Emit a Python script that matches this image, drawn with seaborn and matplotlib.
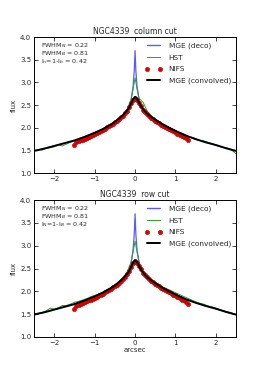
import matplotlib
matplotlib.use("Agg")
import matplotlib.pyplot as plt
import seaborn as sns
from matplotlib.lines import Line2D

sns.set_style("ticks")
plt.rcParams['font.family'] = ['DejaVu Sans']
plt.rcParams['mathtext.fontset'] = 'dejavusans'

# ---------------- data ----------------
x_conv = [-2.5, -2.25, -2.0, -1.75, -1.5, -1.25, -1.0, -0.8, -0.6, -0.5, -0.4, -0.3, -0.2,
          -0.15, -0.1, -0.05, 0.0, 0.05, 0.1, 0.15, 0.2, 0.3, 0.4, 0.5, 0.6, 0.8, 1.0,
          1.25, 1.5, 1.75, 2.0, 2.25, 2.5]
y_conv = [1.49, 1.54, 1.60, 1.66, 1.72, 1.80, 1.89, 1.97, 2.07, 2.13, 2.20, 2.28, 2.38,
          2.44, 2.53, 2.63, 2.68, 2.64, 2.55, 2.47, 2.41, 2.31, 2.24, 2.18, 2.12, 2.02, 1.93,
          1.83, 1.75, 1.68, 1.62, 1.55, 1.49]

x_deco = [-2.5, -2.25, -2.0, -1.75, -1.5, -1.25, -1.0, -0.8, -0.6, -0.5, -0.4, -0.3, -0.2,
          -0.15, -0.1, -0.05, -0.02, 0.0, 0.02, 0.05, 0.1, 0.15, 0.2, 0.3, 0.4, 0.5, 0.6,
          0.8, 1.0, 1.25, 1.5, 1.75, 2.0, 2.25, 2.5]
y_deco = [1.49, 1.54, 1.60, 1.66, 1.72, 1.80, 1.89, 1.97, 2.07, 2.13, 2.20, 2.28, 2.38,
          2.46, 2.60, 2.90, 3.25, 3.70, 3.25, 2.90, 2.62, 2.49, 2.42, 2.31, 2.24, 2.18, 2.12,
          2.02, 1.93, 1.83, 1.75, 1.68, 1.62, 1.55, 1.49]

x_hst = [-2.5, -2.4, -2.3, -2.2, -2.1, -2.0, -1.9, -1.8, -1.7, -1.6, -1.5, -1.4, -1.3, -1.2,
         -1.1, -1.0, -0.9, -0.8, -0.7, -0.6, -0.5, -0.4, -0.3, -0.2, -0.1, -0.05, 0.0, 0.05,
         0.1, 0.2, 0.3, 0.4, 0.5, 0.6, 0.7, 0.8, 0.9, 1.0, 1.1, 1.2, 1.3, 1.4, 1.5, 1.6,
         1.7, 1.8, 1.9, 2.0, 2.1, 2.2, 2.3, 2.4, 2.5]
y_hst_col = [1.50, 1.52, 1.51, 1.55, 1.56, 1.58, 1.62, 1.60, 1.64, 1.68, 1.72, 1.75, 1.78,
             1.82, 1.85, 1.89, 1.93, 1.96, 2.01, 2.06, 2.12, 2.19, 2.28, 2.40, 2.62, 2.85,
             3.10, 2.85, 2.65, 2.56, 2.37, 2.26, 2.19, 2.13, 2.08, 2.03, 1.98, 1.94, 1.90,
             1.87, 1.81, 1.79, 1.76, 1.72, 1.71, 1.68, 1.65, 1.62, 1.59, 1.56, 1.55, 1.50,
             1.43]
y_hst_row = [1.50, 1.52, 1.54, 1.57, 1.63, 1.61, 1.64, 1.69, 1.69, 1.72, 1.76, 1.78, 1.81,
             1.84, 1.88, 1.91, 1.94, 1.98, 2.03, 2.08, 2.14, 2.21, 2.30, 2.42, 2.64, 2.86,
             3.10, 2.86, 2.64, 2.44, 2.33, 2.25, 2.19, 2.14, 2.09, 2.05, 2.01, 1.97, 1.93,
             1.89, 1.85, 1.81, 1.77, 1.74, 1.72, 1.68, 1.66, 1.63, 1.60, 1.57, 1.55, 1.52,
             1.49]

x_nifs = [-1.5, -1.45, -1.4, -1.35, -1.3, -1.25, -1.2, -1.15, -1.1, -1.05, -1.0, -0.95,
          -0.9, -0.85, -0.8, -0.75, -0.7, -0.65, -0.6, -0.55, -0.5, -0.45, -0.4, -0.35,
          -0.3, -0.25, -0.2, -0.15, -0.1, -0.05, 0.0, 0.05, 0.1, 0.15, 0.2, 0.25, 0.3, 0.35,
          0.4, 0.45, 0.5, 0.55, 0.6, 0.65, 0.7, 0.75, 0.8, 0.85, 0.9, 0.95, 1.0, 1.05, 1.1,
          1.15, 1.2, 1.25, 1.3]
y_nifs_col = [1.62, 1.68, 1.71, 1.72, 1.74, 1.76, 1.78, 1.80, 1.82, 1.84, 1.86, 1.88,
              1.91, 1.93, 1.95, 1.98, 2.01, 2.03, 2.06, 2.09, 2.12, 2.15, 2.19, 2.23,
              2.27, 2.32, 2.38, 2.45, 2.54, 2.62, 2.66, 2.62, 2.55, 2.47, 2.40, 2.35, 2.30, 2.26,
              2.22, 2.19, 2.16, 2.13, 2.10, 2.07, 2.05, 2.02, 2.00, 1.97, 1.95, 1.92, 1.90,
              1.87, 1.84, 1.82, 1.79, 1.77, 1.73]
y_nifs_row = [1.62, 1.68, 1.71, 1.72, 1.74, 1.76, 1.78, 1.80, 1.82, 1.84, 1.86, 1.88,
              1.91, 1.93, 1.95, 1.98, 2.01, 2.03, 2.06, 2.09, 2.12, 2.15, 2.19, 2.23,
              2.27, 2.32, 2.38, 2.45, 2.54, 2.62, 2.66, 2.62, 2.56, 2.48, 2.41, 2.36, 2.31, 2.27,
              2.23, 2.20, 2.17, 2.14, 2.11, 2.08, 2.06, 2.03, 2.01, 1.98, 1.96, 1.93, 1.91,
              1.88, 1.85, 1.82, 1.80, 1.77, 1.73]

titles = ["NGC4339  column cut", "NGC4339  row cut"]
notes = [["FWHM$_N$ = 0.22", "FWHM$_B$ = 0.81", "I$_n$=1-I$_b$ = 0.42"],
         ["FWHM$_N$ = 0.22", "FWHM$_B$ = 0.81", "I$_N$=1-I$_B$ = 0.42"]]
x_ticks = [-2, -1, 0, 1, 2]
y_ticks = [1.0, 1.5, 2.0, 2.5, 3.0, 3.5, 4.0]

# ---------------- figure ----------------
fig = plt.figure(figsize=(2.62, 3.74), dpi=100)
positions = [[0.130, 0.537, 0.771, 0.364], [0.130, 0.099, 0.771, 0.366]]
hst_sets = [y_hst_col, y_hst_row]
nifs_sets = [y_nifs_col, y_nifs_row]

c_blue = "#5a5aff"
c_green = "#2ca02c"
fs = 5.0

for i in range(2):
    ax = fig.add_axes(positions[i])
    sns.lineplot(x=x_deco, y=y_deco, ax=ax, color=c_blue, lw=0.9, sort=False)
    sns.lineplot(x=x_hst, y=hst_sets[i], ax=ax, color=c_green, lw=0.7, sort=False)
    sns.scatterplot(x=x_nifs, y=nifs_sets[i], ax=ax, color="#dd0000", s=10,
                    edgecolor="#aa0000", linewidth=0.3, zorder=3)
    sns.lineplot(x=x_conv, y=y_conv, ax=ax, color="black", lw=1.4, sort=False, zorder=4)

    ax.set_xlim(-2.5, 2.5)
    ax.set_ylim(1.0, 4.0)
    ax.set_xticks(x_ticks)
    ax.set_yticks(y_ticks)
    ax.set_xticklabels(["\u22122", "\u22121", "0", "1", "2"])
    ax.set_yticklabels([f"{v:.1f}" for v in y_ticks])
    ax.tick_params(direction="in", top=True, right=True, labelsize=fs, length=3,
                   width=0.6, pad=2)
    for sp in ax.spines.values():
        sp.set_linewidth(0.7)
        sp.set_color("black")
    ax.set_title(titles[i], fontsize=fs + 0.5, pad=2)
    ax.set_ylabel("flux", fontsize=fs, labelpad=2)
    if i == 1:
        ax.set_xlabel("arcsec", fontsize=fs, labelpad=1)
    else:
        ax.set_xlabel("")
    for k, t in enumerate(notes[i]):
        ax.text(0.035, 0.968 - k * 0.056, t, transform=ax.transAxes, fontsize=fs - 0.4,
                va="top", ha="left")

    handles = [Line2D([], [], color=c_blue, lw=1.0),
               Line2D([], [], color=c_green, lw=0.7),
               Line2D([], [], color="#dd0000", ls="none", marker="o", ms=3.2,
                      mec="#aa0000", mew=0.3),
               Line2D([], [], color="black", lw=1.4)]
    ax.legend(handles, ["MGE (deco)", "HST", "NIFS", "MGE (convolved)"],
              loc="upper right", frameon=False, fontsize=fs + 0.3, numpoints=2,
              handlelength=2.4, labelspacing=0.75, borderaxespad=0.3)

fig.savefig("out.png", dpi=100)
